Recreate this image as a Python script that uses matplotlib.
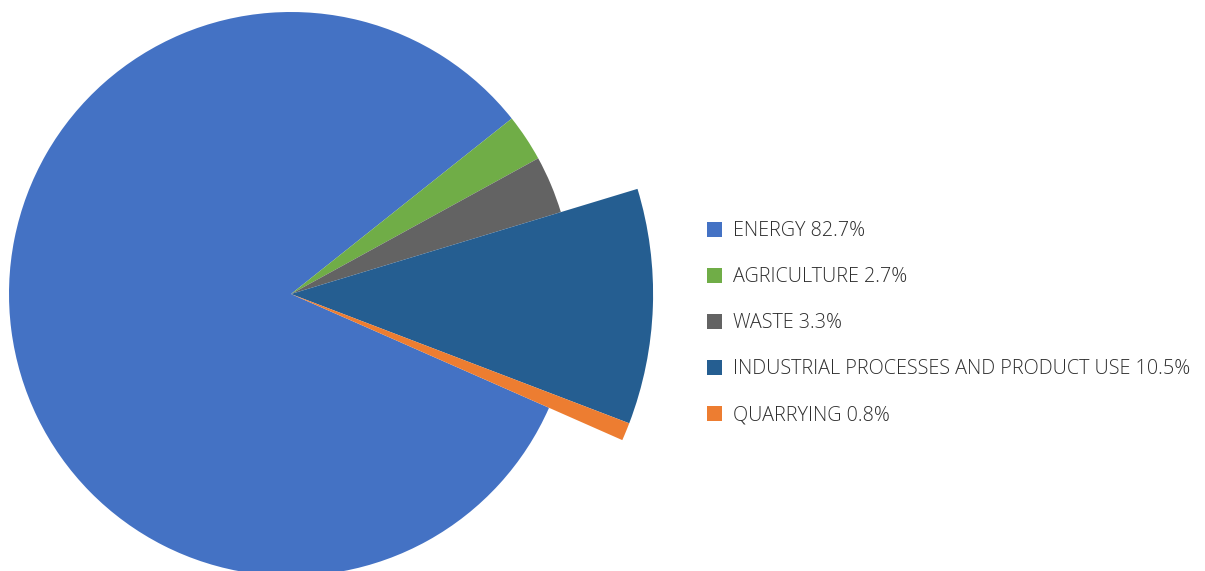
import matplotlib.pyplot as plt
from matplotlib.patches import Rectangle

categories = ['ENERGY', 'AGRICULTURE', 'WASTE', 'INDUSTRIAL PROCESSES AND PRODUCT USE', 'QUARRYING']
shares = [82.7, 2.7, 3.3, 10.5, 0.8]
colors = ['#4472C4', '#70AD47', '#636363', '#255E91', '#ED7D31']
pulled_out = [False, False, False, True, True]

W, H = 1205, 571
fig = plt.figure(figsize=(W / 100, H / 100), dpi=100)
ax = fig.add_axes([0, 0, 1, 1])

cx, cy = 291, H - 294
r = 282
wedges, _ = ax.pie(shares, colors=colors, startangle=336.2, counterclock=False,
                   center=(cx, cy), radius=r, frame=True,
                   wedgeprops=dict(linewidth=0))
# the two smaller sectors are drawn with a bigger radius
for w, big in zip(wedges, pulled_out):
    if big:
        w.set_radius(r * 1.284)
ax.set_xlim(0, W)
ax.set_ylim(0, H)
ax.axis('off')

# legend
y0, step = 229.5, 46
for i, (cat, val, col) in enumerate(zip(categories, shares, colors)):
    y = H - (y0 + i * step)
    ax.add_patch(Rectangle((707, y - 7.5), 15, 15, color=col, lw=0))
    ax.text(733, y - 1.5, f'{cat} {val}%', fontsize=14.25, family='Open Sans',
            fontweight='light', color='#2e2e2e', va='center', ha='left')

fig.savefig('out.png', dpi=100)
